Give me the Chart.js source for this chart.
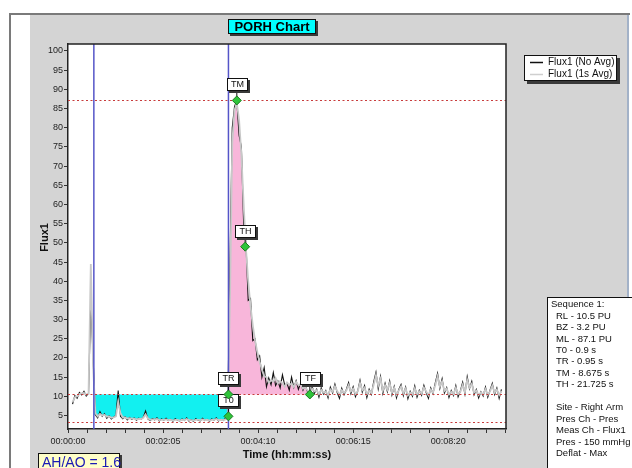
<!DOCTYPE html>
<html>
<head>
<meta charset="utf-8">
<script src="https://cdn.jsdelivr.net/npm/chart.js@4.4.1/dist/chart.umd.min.js"></script>
<style>
  html, body { margin: 0; padding: 0; background: #fff; }
  #wrap { width: 632px; height: 468px; }
</style>
</head>
<body>
<div id="wrap"><canvas id="porh" width="632" height="468"></canvas></div>
<script>
// samples are stored every 3 s starting at 6 s
const sampleStart = 6;
const sampleStep = 3;

const flux1Raw = [
  8.0, 10.2, 9.5, 11.0, 10.4, 11.3, 10.1, 10.8, 35.0, 20.0,
  5.2, 4.4, 6.0, 4.8, 5.5, 4.3, 4.9, 4.1, 4.6, 5.0,
  11.5, 4.8, 4.2, 4.7, 3.9, 4.5, 4.0, 4.4, 3.8, 4.3,
  4.0, 4.6, 6.2, 4.1, 3.7, 4.2, 3.9, 4.4, 3.6, 4.1,
  3.8, 4.3, 3.7, 4.0, 3.5, 4.2, 3.8, 3.6, 4.1, 3.7,
  4.4, 3.6, 3.9, 3.5, 4.2, 3.8, 3.6, 4.3, 3.7, 4.0,
  3.5, 4.1, 3.8, 4.4, 3.6, 4.0, 3.7, 4.3, 4.8, 45.0,
  80.0, 85.5, 87.1, 78.0, 75.0, 55.0, 50.0, 35.0, 35.5, 24.5,
  25.0, 19.5, 20.5, 15.0, 17.5, 12.5, 14.8, 13.0, 16.2, 12.8,
  14.0, 12.2, 15.6, 12.9, 13.4, 11.6, 15.0, 12.3, 14.1, 11.8,
  13.5, 11.6, 12.8, 11.2, 10.5, 12.6, 10.8, 11.9, 9.8, 12.2,
  10.6, 11.5, 9.6, 12.4, 10.9, 13.2, 11.0, 9.5, 12.1, 10.4,
  11.8, 13.6, 10.7, 12.5, 9.9, 11.4, 14.2, 11.1, 12.8, 9.7,
  11.9, 10.5, 13.8, 16.3, 12.0, 15.2, 10.8, 13.4, 11.2, 14.0,
  10.4, 12.6, 9.6, 11.8, 13.1, 10.2, 12.4, 9.4, 11.3, 10.0,
  12.7, 9.8, 11.6, 10.3, 12.9, 11.0, 9.5, 12.2, 10.7, 13.5,
  16.0, 12.1, 14.6, 10.9, 12.3, 9.7, 11.5, 10.2, 12.8, 9.9,
  11.4, 13.7, 10.6, 15.1, 12.0, 13.9, 10.4, 11.8, 9.6, 11.2,
  10.1, 12.4, 9.8, 11.6, 13.4, 10.5, 12.2, 9.5, 11.8
];

const flux1Avg = [
  8.5, 9.8, 10.0, 10.6, 10.8, 10.9, 10.5, 10.6, 44.5, 18.0,
  5.6, 4.8, 5.4, 5.0, 5.2, 4.7, 4.8, 4.4, 4.5, 4.8,
  8.5, 5.6, 4.5, 4.5, 4.2, 4.3, 4.2, 4.2, 4.0, 4.1,
  4.1, 4.4, 5.3, 4.3, 3.9, 4.0, 4.0, 4.1, 3.8, 3.9,
  3.9, 4.0, 3.8, 3.9, 3.7, 3.9, 3.9, 3.7, 3.9, 3.8,
  4.1, 3.8, 3.8, 3.7, 3.9, 3.9, 3.8, 4.0, 3.8, 3.9,
  3.7, 3.9, 3.9, 4.1, 3.8, 3.9, 3.8, 4.0, 4.5, 35.0,
  76.0, 84.5, 86.5, 82.0, 73.0, 60.0, 48.5, 40.0, 33.5, 28.5,
  24.5, 21.5, 19.0, 17.0, 15.2, 15.0, 13.6, 14.2, 13.8, 14.8,
  13.4, 14.0, 13.4, 12.5, 13.6, 13.0, 13.3, 12.4, 13.8, 12.9,
  13.1, 12.0, 12.4, 11.6, 10.8, 12.0, 11.3, 11.6, 10.6, 11.7,
  11.0, 11.3, 10.3, 11.8, 11.2, 12.6, 11.4, 10.4, 11.6, 10.9,
  11.5, 12.9, 11.3, 12.0, 10.6, 11.3, 13.5, 11.6, 12.3, 10.5,
  11.5, 10.9, 13.0, 15.5, 12.8, 14.6, 11.5, 12.9, 11.7, 13.4,
  11.0, 12.2, 10.4, 11.5, 12.6, 10.8, 12.0, 10.2, 11.0, 10.5,
  12.1, 10.5, 11.3, 10.7, 12.3, 11.3, 10.3, 11.8, 11.0, 12.9,
  15.2, 12.6, 13.9, 11.4, 12.0, 10.5, 11.2, 10.6, 12.2, 10.6,
  11.2, 13.0, 11.1, 14.3, 12.3, 13.3, 11.0, 11.5, 10.3, 11.0,
  10.5, 11.9, 10.4, 11.3, 12.8, 11.0, 11.8, 10.3, 11.4
];

// cursors (blue) and levels ML, RL, BZ (red dotted)
const cursorTimes = [34, 211];
const levelValues = [87.1, 10.5, 3.2];

const markerLabels = ['T0', 'TR', 'TM', 'TH', 'TF'];
const markerTimes = [211, 211, 222, 233, 318];
const markerValues = [4.8, 10.5, 87.1, 49, 10.5];

const xTickValues = [0, 125, 250, 375, 500];
const xTickLabels = ['00:00:00', '00:02:05', '00:04:10', '00:06:15', '00:08:20'];
const xMinorStep = 25;
const yTickValues = [5, 10, 15, 20, 25, 30, 35, 40, 45, 50, 55, 60, 65, 70, 75, 80, 85, 90, 95, 100];

const legendNames = ['Flux1 (No Avg)', 'Flux1 (1s Avg)'];
const sequenceTitle = 'Sequence 1:';
const sequenceItems = ['RL - 10.5 PU', 'BZ - 3.2 PU', 'ML - 87.1 PU', 'T0 - 0.9 s', 'TR - 0.95 s',
  'TM - 8.675 s', 'TH - 21.725 s', '', 'Site - Right Arm', 'Pres Ch - Pres', 'Meas Ch - Flux1',
  'Pres - 150 mmHg', 'Deflat - Max'];
const ratioText = 'AH/AO = 1.6';

const FONT = 'Liberation Sans, Arial, sans-serif';
Chart.defaults.font.family = FONT;

const rawPts = flux1Raw.map((v, i) => ({ x: sampleStart + i * sampleStep, y: v }));
const avgPts = flux1Avg.map((v, i) => ({ x: sampleStart + i * sampleStep, y: v }));

// occlusion area between the cursors, hyperemia area from TR to TF
const occl = rawPts.filter(p => p.x > cursorTimes[0] && p.x < markerTimes[0]);
occl.unshift({ x: cursorTimes[0], y: occl[0].y });
occl.push({ x: markerTimes[0], y: markerValues[0] });
const hyper = avgPts.filter(p => p.x > markerTimes[1] && p.x < markerTimes[4]);
hyper.unshift({ x: markerTimes[1], y: markerValues[1] });
hyper.push({ x: markerTimes[4], y: markerValues[4] });

function shadowBox(ctx, x, y, w, h, fill, off) {
  ctx.fillStyle = '#3a3a3a';
  ctx.fillRect(x + off, y + off, w, h);
  ctx.fillStyle = fill;
  ctx.fillRect(x, y, w, h);
  ctx.strokeStyle = '#111';
  ctx.lineWidth = 1;
  ctx.strokeRect(x + 0.5, y + 0.5, w - 1, h - 1);
}

const porhDecor = {
  id: 'porhDecor',
  beforeDraw(chart) {
    const ctx = chart.ctx, a = chart.chartArea;
    ctx.save();
    ctx.fillStyle = '#fff';
    ctx.fillRect(0, 0, chart.width, chart.height);
    ctx.fillStyle = '#d4d4d4';
    ctx.fillRect(30, 15, 597, 453);
    ctx.strokeStyle = '#7a7a7a';
    ctx.lineWidth = 2;
    ctx.beginPath();
    ctx.moveTo(10, 468); ctx.lineTo(10, 14); ctx.lineTo(630, 14);
    ctx.stroke();
    ctx.strokeStyle = '#a3b2c8';
    ctx.beginPath();
    ctx.moveTo(628, 15); ctx.lineTo(628, 468);
    ctx.stroke();
    ctx.fillStyle = '#fff';
    ctx.fillRect(a.left, a.top, a.right - a.left, a.bottom - a.top);
    ctx.restore();
  },
  afterDatasetsDraw(chart) {
    const ctx = chart.ctx, a = chart.chartArea;
    const xs = chart.scales.x, ys = chart.scales.y;
    ctx.save();
    // level lines
    ctx.strokeStyle = '#c83c3c';
    ctx.lineWidth = 1.2;
    ctx.setLineDash([2, 2.5]);
    levelValues.forEach(v => {
      const py = Math.round(ys.getPixelForValue(v)) + 0.5;
      ctx.beginPath(); ctx.moveTo(a.left, py); ctx.lineTo(a.right, py); ctx.stroke();
    });
    ctx.setLineDash([]);
    // cursors
    ctx.strokeStyle = '#5555c8';
    ctx.lineWidth = 1.5;
    cursorTimes.forEach(t => {
      const px = xs.getPixelForValue(t);
      ctx.beginPath(); ctx.moveTo(px, a.top); ctx.lineTo(px, a.bottom); ctx.stroke();
    });
    // top/right frame of plot
    ctx.strokeStyle = '#222';
    ctx.lineWidth = 1.5;
    ctx.beginPath();
    ctx.moveTo(a.left, a.top); ctx.lineTo(a.right, a.top); ctx.lineTo(a.right, a.bottom);
    ctx.stroke();
    // markers with labels
    ctx.font = '9px ' + FONT;
    ctx.textAlign = 'center';
    ctx.textBaseline = 'middle';
    markerLabels.forEach((lab, i) => {
      const px = xs.getPixelForValue(markerTimes[i]);
      const py = ys.getPixelForValue(markerValues[i]);
      const w = 21, h = 13;
      const bx = Math.round(px - 10), by = Math.round(py - 9 - h);
      ctx.strokeStyle = '#111';
      ctx.lineWidth = 1;
      ctx.beginPath(); ctx.moveTo(px, by + h); ctx.lineTo(px, py); ctx.stroke();
      shadowBox(ctx, bx, by, w, h, '#fff', 2);
      ctx.fillStyle = '#111';
      ctx.fillText(lab, bx + w / 2, by + h / 2 + 0.5);
      ctx.beginPath();
      ctx.moveTo(px, py - 4.5); ctx.lineTo(px + 4.5, py); ctx.lineTo(px, py + 4.5); ctx.lineTo(px - 4.5, py);
      ctx.closePath();
      ctx.fillStyle = '#2fc43a';
      ctx.fill();
      ctx.strokeStyle = '#1a7a1f';
      ctx.stroke();
    });
    ctx.restore();
  },
  afterDraw(chart) {
    const ctx = chart.ctx;
    ctx.save();
    // title
    shadowBox(ctx, 228, 19, 88, 15, '#00ffff', 2);
    ctx.fillStyle = '#000';
    ctx.font = 'bold 13px ' + FONT;
    ctx.textAlign = 'center';
    ctx.textBaseline = 'middle';
    ctx.fillText('PORH Chart', 272, 27);
    // legend
    shadowBox(ctx, 524, 55, 93, 26, '#fff', 3);
    ctx.font = '10px ' + FONT;
    ctx.textAlign = 'left';
    ['#111', '#cfcfcf'].forEach((c, i) => {
      const ly = 62.5 + i * 12;
      ctx.strokeStyle = c;
      ctx.lineWidth = 1.5;
      ctx.beginPath(); ctx.moveTo(530, ly); ctx.lineTo(543, ly); ctx.stroke();
      ctx.fillStyle = '#111';
      ctx.fillText(legendNames[i], 548, ly);
    });
    // sequence info
    shadowBox(ctx, 547, 297, 100, 200, '#fff', 0);
    ctx.font = '9.5px ' + FONT;
    ctx.fillStyle = '#111';
    ctx.fillText(sequenceTitle, 551, 304.5);
    sequenceItems.forEach((s, i) => ctx.fillText(s, 556, 316 + i * 11.45));
    // AH/AO box
    shadowBox(ctx, 38, 453, 82, 30, '#ffffc8', 2);
    ctx.fillStyle = '#1a1ab4';
    ctx.font = '14px ' + FONT;
    ctx.textBaseline = 'alphabetic';
    ctx.fillText(ratioText, 42, 467);
    // axis titles
    ctx.fillStyle = '#111';
    ctx.font = 'bold 11px ' + FONT;
    ctx.textAlign = 'center';
    ctx.textBaseline = 'middle';
    ctx.fillText('Time (hh:mm:ss)', 287, 455);
    ctx.translate(44.5, 237.5);
    ctx.rotate(-Math.PI / 2);
    ctx.fillText('Flux1', 0, 0);
    ctx.restore();
  }
};

new Chart(document.getElementById('porh'), {
  type: 'line',
  data: {
    datasets: [
      { label: legendNames[1], data: avgPts, borderColor: '#c8c8c8', borderWidth: 1.8, pointRadius: 0, fill: false, order: 1 },
      { label: legendNames[0], data: rawPts, borderColor: '#111', borderWidth: 1.1, pointRadius: 0, fill: false, order: 2 },
      { label: 'occl', data: occl, borderWidth: 0, pointRadius: 0, backgroundColor: '#12f0f0', fill: { value: levelValues[1] }, order: 3 },
      { label: 'hyper', data: hyper, borderWidth: 0, pointRadius: 0, backgroundColor: '#f8b6da', fill: { value: levelValues[1] }, order: 3 }
    ]
  },
  options: {
    responsive: false,
    animation: false,
    layout: { padding: { left: 0, top: 44, right: 126, bottom: 0 } },
    plugins: { legend: { display: false }, title: { display: false }, tooltip: { enabled: false } },
    scales: {
      x: {
        type: 'linear',
        min: 0,
        max: 576,
        afterFit: s => { s.height = 39; },
        afterBuildTicks: s => {
          const t = [];
          for (let v = 0; v <= s.max; v += xMinorStep) t.push({ value: v });
          s.ticks = t;
        },
        ticks: {
          autoSkip: false, maxRotation: 0, padding: 3, color: '#222', font: { size: 9 },
          callback: v => { const k = xTickValues.indexOf(v); return k >= 0 ? xTickLabels[k] : ''; }
        },
        grid: { drawOnChartArea: false, drawTicks: true, tickLength: 4, color: '#333' },
        border: { color: '#222', width: 1.5 }
      },
      y: {
        min: 1.5,
        max: 101.8,
        afterFit: s => { s.width = 68; },
        afterBuildTicks: s => { s.ticks = yTickValues.map(v => ({ value: v })); },
        ticks: { padding: 1, color: '#222', font: { size: 9 } },
        grid: { drawOnChartArea: false, drawTicks: true, tickLength: 4, color: '#333' },
        border: { color: '#222', width: 1.5 }
      }
    }
  },
  plugins: [porhDecor]
});
</script>
</body>
</html>
